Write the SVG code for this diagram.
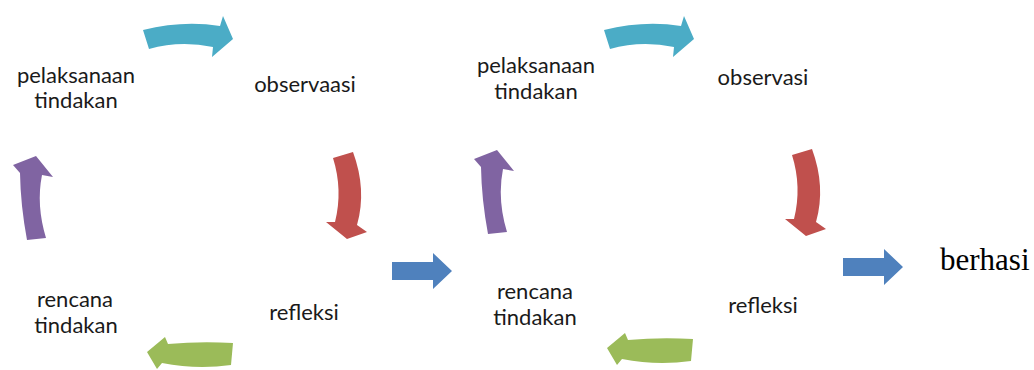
<svg xmlns="http://www.w3.org/2000/svg" width="1034" height="370" viewBox="0 0 1034 370">
<style>
.lbl{font-family:Lato,"Liberation Sans",sans-serif;font-size:22px;fill:#1a1a1a;text-anchor:middle}
.ser{font-family:"Liberation Serif",serif;font-size:31px;fill:#000}
</style>
<defs>
<path id="teal" d="M143,30 Q183,20 220,26 L223,16 L233,39 L212,57 L213,47 Q180,40 149,49 Z" fill="#4BACC6"/>
<path id="red" d="M333,158 L353,152 Q367,190 357,225 L367,232 L347,239 L326,222 L335,222 Q343,190 333,158 Z" fill="#C0504D"/>
<path id="green" d="M233,343 Q200,341 168,344 L165,337 L147,352 L157,369 L162,363 Q197,370 231,365 Z" fill="#9BBB59"/>
<path id="purple" d="M27,240 Q20.5,205 20,173 L13,165 L36,156 L53,177 L42,175 Q36,205 46,238 Z" fill="#8064A2"/>
<path id="blue" d="M392,262 L433,262 L433,253 L452,271 L433,289 L433,280 L392,280 Z" fill="#4F81BD"/>
</defs>
<g id="connectors">
<use href="#teal"/>
<use href="#red"/>
<use href="#green"/>
<use href="#purple"/>
<use href="#blue"/>
<use href="#teal" transform="translate(461,0)"/>
<use href="#red" transform="translate(459,-3)"/>
<use href="#green" transform="translate(460,-4)"/>
<use href="#purple" transform="translate(461,-6)"/>
<use href="#blue" transform="translate(451,-4)"/>
</g>
<g id="n1-pelaksanaan"><text class="lbl" x="76" y="83">pelaksanaan</text><text class="lbl" x="76" y="108">tindakan</text></g>
<g id="n1-observaasi"><text class="lbl" x="305" y="92">observaasi</text></g>
<g id="n1-rencana"><text class="lbl" x="75" y="307">rencana</text><text class="lbl" x="76" y="333">tindakan</text></g>
<g id="n1-refleksi"><text class="lbl" x="304" y="320">refleksi</text></g>
<g id="n2-pelaksanaan"><text class="lbl" x="536" y="73">pelaksanaan</text><text class="lbl" x="536" y="99">tindakan</text></g>
<g id="n2-observasi"><text class="lbl" x="763" y="85">observasi</text></g>
<g id="n2-rencana"><text class="lbl" x="535" y="299">rencana</text><text class="lbl" x="535" y="325">tindakan</text></g>
<g id="n2-refleksi"><text class="lbl" x="763" y="313">refleksi</text></g>
<g id="n-berhasi"><text class="ser" x="940" y="270">berhasi</text></g>
</svg>
